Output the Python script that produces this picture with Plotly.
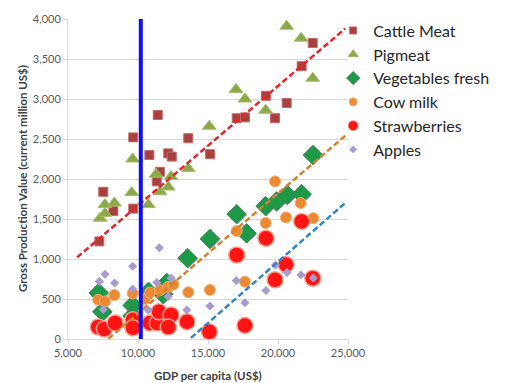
import plotly.graph_objects as go

# ---- data ----
cattle_x = [22480, 21690, 19140, 20620, 19790, 17050, 17640, 11410, 9660, 13590,
            10810, 12160, 12410, 15140, 11570, 7520, 8240, 9660, 7240, 11340]
cattle_y = [3700, 3410, 3040, 2950, 2760, 2760, 2770, 2800, 2520, 2510,
            2300, 2320, 2280, 2310, 2090, 1840, 1600, 1630, 1220, 1970]

pig_x = [20620, 21650, 22480, 17000, 17640, 19120, 15090, 9620, 13590, 11290,
         12360, 9550, 11570, 12160, 10740, 7640, 8310, 7290, 7640]
pig_y = [3910, 3760, 3260, 3120, 3000, 2860, 2660, 2250, 2130, 2060,
         2030, 1830, 1840, 1900, 1680, 1680, 1700, 1510, 1570]

veg_x = [7200, 7450, 9620, 9620, 10750, 12050, 11800, 13550, 15140, 17050,
         17760, 19120, 19900, 20660, 21690, 22500]
veg_y = [575, 340, 420, 290, 590, 700, 560, 1010, 1250, 1560,
         1320, 1660, 1720, 1800, 1810, 2300]

milk_x = [7160, 7640, 8310, 9620, 10500, 10860, 11570, 12160, 12520, 13590,
          15140, 17050, 17640, 19120, 19790, 20570, 21620, 22520]
milk_y = [490, 470, 550, 570, 500, 580, 610, 650, 680, 585,
          613, 1350, 716, 1450, 1970, 1520, 1700, 1510]

straw_x = [7160, 7590, 8360, 9640, 9640, 10860, 11380, 11500, 12360, 12160,
           13500, 15100, 17640, 17050, 19140, 19790, 20570, 21690, 22480]
straw_y = [150, 125, 200, 240, 140, 200, 200, 340, 300, 150,
           215, 90, 170, 1050, 1260, 740, 930, 1470, 760]

apple_x = [11520, 9620, 7640, 7240, 8330, 9620, 11340, 12360, 12160, 7520,
           10740, 13480, 15140, 17020, 17640, 19140, 19820, 20640, 21640, 22520]
apple_y = [1140, 910, 810, 720, 700, 625, 706, 760, 530, 370,
           363, 363, 413, 730, 454, 606, 925, 830, 800, 763]

# trend lines (end points in data units)
trend_red_x = [5650, 24800]
trend_red_y = [1020, 3880]
trend_orange_x = [7400, 24800]
trend_orange_y = [-70, 2540]
trend_blue_x = [13300, 24800]
trend_blue_y = [-60, 1700]

# vertical reference line
ref_x = [10200, 10200]
ref_y = [0, 4000]

x_ticks = [5000, 10000, 15000, 20000, 25000]
y_ticks = [0, 500, 1000, 1500, 2000, 2500, 3000, 3500, 4000]

x_title = "<b>GDP per capita (US$)</b>"
y_title = "<b>Gross Production Value (current million US$)</b>"

series = [
    ("Cattle Meat", cattle_x, cattle_y, "square", 9, "#A8403F", "#C56A68", 1, 7),
    ("Pigmeat", pig_x, pig_y, "triangle-up", 12, "#8DA84A", "#A3BD66", 1, 9),
    ("Vegetables fresh", veg_x, veg_y, "diamond", 15, "#1C9A48", "#3A7D4A", 1, 10),
    ("Cow milk", milk_x, milk_y, "circle", 11, "#EC8A34", "#F2AB6E", 1, 8),
    ("Strawberries", straw_x, straw_y, "circle", 16, "#FF1414", "#F5A08E", 1.5, 10),
    ("Apples", apple_x, apple_y, "diamond", 7, "#A79CCB", "#A79CCB", 0, 6),
]

fig = go.Figure()

for name, xs, ys, sym, size, col, edge, ew, lsize in series:
    fig.add_trace(go.Scatter(x=xs, y=ys, mode="markers", name=name, showlegend=False,
                             marker=dict(symbol=sym, size=size, color=col,
                                         line=dict(color=edge, width=ew))))

dash = "6px,3px"
fig.add_trace(go.Scatter(x=trend_red_x, y=trend_red_y, mode="lines", showlegend=False,
                         line=dict(color="#E8242B", width=2.5, dash=dash)))
fig.add_trace(go.Scatter(x=trend_orange_x, y=trend_orange_y, mode="lines", showlegend=False,
                         line=dict(color="#D4802E", width=2.5, dash=dash)))
fig.add_trace(go.Scatter(x=trend_blue_x, y=trend_blue_y, mode="lines", showlegend=False,
                         line=dict(color="#2F86C8", width=2.5, dash=dash)))
fig.add_trace(go.Scatter(x=ref_x, y=ref_y, mode="lines", showlegend=False,
                         line=dict(color="#0A10F0", width=4)))

# legend entries with small symbols, as in the reference
for name, xs, ys, sym, size, col, edge, ew, lsize in series:
    fig.add_trace(go.Scatter(x=[None], y=[None], mode="markers", name=name,
                             marker=dict(symbol=sym, size=lsize, color=col,
                                         line=dict(color=edge, width=min(ew, 1)))))

font_family = "Lato, 'Open Sans', sans-serif"

# page body has an 8px margin, so the figure is sized/offset to compensate
fig.update_layout(
    width=501, height=375,
    margin=dict(l=60, r=161, t=11, b=44, autoexpand=False),
    paper_bgcolor="white", plot_bgcolor="white",
    font=dict(family=font_family, color="#595959"),
    legend=dict(x=0.947, y=1.017, xanchor="left", yanchor="top",
                bgcolor="rgba(0,0,0,0)", itemwidth=30, tracegroupgap=0,
                font=dict(size=16, color="#262626")),
    showlegend=True,
)

fig.add_annotation(text=x_title, xref="paper", yref="paper", x=0.5, y=-0.1125,
                   xanchor="center", yanchor="middle", showarrow=False,
                   font=dict(size=11.5, color="#404040"))
fig.add_annotation(text=y_title, xref="paper", yref="paper", x=-0.164, y=0.5,
                   xanchor="center", yanchor="middle", textangle=-90, showarrow=False,
                   font=dict(size=11.5, color="#404040"))

fig.update_xaxes(range=[5000, 25000], tickvals=x_ticks, tickformat=",d",
                 automargin=False,
                 showgrid=False, zeroline=False, showline=True, linecolor="#D9D9D9",
                 ticks="outside", ticklen=4, tickcolor="#D9D9D9",
                 tickfont=dict(size=11, color="#595959"))
fig.update_yaxes(range=[0, 4000], tickvals=y_ticks, tickformat=",d",
                 automargin=False,
                 showgrid=True, gridcolor="#D9D9D9", gridwidth=1,
                 zeroline=False, showline=True, linecolor="#D9D9D9",
                 ticks="outside", ticklen=4, tickcolor="#D9D9D9",
                 tickfont=dict(size=11, color="#595959"))

fig.write_html("out.html")
